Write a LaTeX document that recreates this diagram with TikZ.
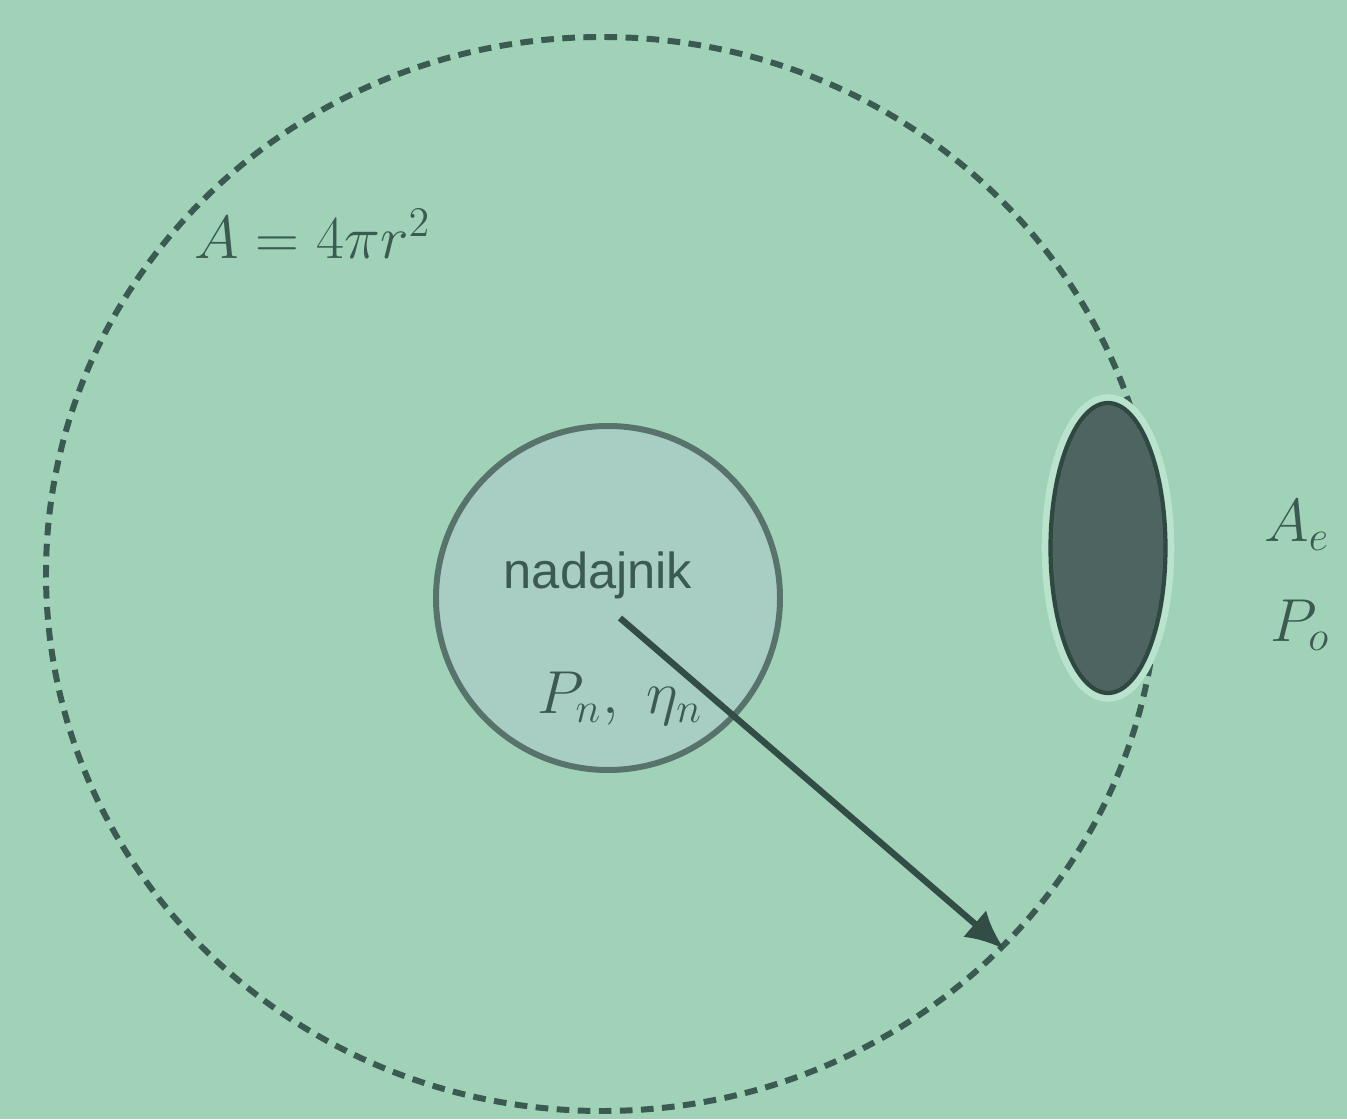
\documentclass[tikz,border=0pt]{standalone}
\usepackage{fontspec}
\setsansfont{Liberation Sans}
\definecolor{paper}{HTML}{9FD2B6}
\definecolor{ink}{HTML}{3B5A52}
\definecolor{discfill}{HTML}{A8CEC3}
\definecolor{rxfill}{HTML}{4E6460}
\definecolor{halo}{HTML}{B9E3CC}
\usetikzlibrary{shapes.geometric, arrows.meta, positioning, calc}
\tikzset{
  sphere/.style={
    draw=ink, ellipse, dash pattern=on 3.6pt off 2.4pt,
    line width=1.7pt, inner sep=0pt
  },
  txdisc/.style={
    draw=ink!85, fill=discfill, circle, line width=1.7pt,
    minimum size=3.44cm, inner sep=0pt
  },
  rxbody/.style={
    draw=ink!80!black, fill=rxfill, ellipse, line width=1.2pt,
    minimum width=1.15cm, minimum height=2.9cm,
    preaction={draw=halo, line width=5pt}
  },
  lbl/.style={font=\LARGE, text=ink},
  ray/.style={-{Latex[length=11pt,width=10pt]}, line width=1.8pt, color=ink!85!black},
}

\begin{document}
\begin{tikzpicture}
  \fill[paper] (0,0) rectangle (13.47,11.19);
  \useasboundingbox (0,0) rectangle (13.47,11.19);

  % Sphere of radius r
  \node[sphere, minimum width=11.12cm, minimum height=10.74cm] (sph) at (6.02,5.45) {};
  \node[lbl, anchor=west] (area) at (1.82,8.85) {$A=4\pi r^2$};

  % Transmitter
  \node[txdisc] (tx) at (6.08,5.21) {};
  \node[lbl, font=\Large\sffamily] (txname) at (5.98,5.44) {nadajnik};
  \node[lbl] (txpar) at (6.2,4.2) {$P_n,\ \eta_n$};
  \coordinate (src) at (6.2,5.01);

  % Receiver
  \node[rxbody] (rx) at (11.08,5.71) {};
  \node[lbl] (rxarea) at (12.97,5.94) {$A_e$};
  \node[lbl] (rxpow) at (13.0,4.94) {$P_o$};

  % Arrow
  \draw[ray] (src) -- (sph.-43);
\end{tikzpicture}
\end{document}
